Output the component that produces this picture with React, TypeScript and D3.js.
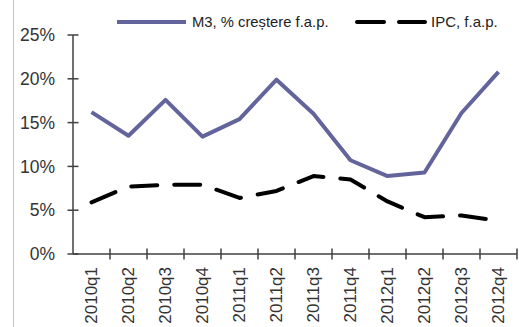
import React from "react";
import * as d3 from "d3";

const categories = ["2010q1","2010q2","2010q3","2010q4","2011q1","2011q2","2011q3","2011q4","2012q1","2012q2","2012q3","2012q4"];
const m3Values = [16.2, 13.5, 17.6, 13.4, 15.4, 19.9, 16.0, 10.7, 8.9, 9.3, 16.1, 20.8];
const ipcValues = [5.9, 7.7, 7.9, 7.9, 6.4, 7.2, 8.9, 8.5, 6.0, 4.2, 4.4, 3.8];
const yTicks = [0, 5, 10, 15, 20, 25];
const m3Label = "M3,  % creștere f.a.p.";
const ipcLabel = "IPC, f.a.p.";

export default function App() {
  const W = 519, H = 327;
  const left = 73, right = 517, top = 35, bottom = 254;
  const x = d3.scaleBand<string>().domain(categories).range([left, right]);
  const y = d3.scaleLinear().domain([0, 25]).range([bottom, top]);
  const cx = (c: string) => (x(c) as number) + x.bandwidth() / 2;
  const line = d3.line<number>().x((_, i) => cx(categories[i])).y(d => y(d));
  const axisColor = "#404040";
  const font = "Arial, 'Liberation Sans', sans-serif";
  return (
    <svg width={W} height={H} style={{ position: "absolute", left: 0, top: 0, background: "#fff" }}>
      <line x1={13.5} x2={13.5} y1={0} y2={H} stroke="#c8c8c8" strokeWidth={1} />
      {/* y axis */}
      <line x1={left} x2={left} y1={top} y2={bottom} stroke={axisColor} strokeWidth={1.5} />
      {yTicks.map(t => (
        <g key={t}>
          <line x1={left - 5.5} x2={left + 5.5} y1={y(t)} y2={y(t)} stroke={axisColor} strokeWidth={1.5} />
          <text x={55} y={y(t)} dy="0.35em" textAnchor="end" fontFamily={font} fontSize={17.5} fill="#333">{t}%</text>
        </g>
      ))}
      {/* x axis */}
      <line x1={left} x2={right} y1={bottom} y2={bottom} stroke={axisColor} strokeWidth={1.5} />
      {categories.map((c, i) => (
        <line key={"t" + c} x1={(x(c) as number) + x.bandwidth()} x2={(x(c) as number) + x.bandwidth()} y1={bottom - 5.5} y2={bottom + 5.5} stroke={axisColor} strokeWidth={1.5} />
      ))}
      {categories.map(c => (
        <text key={c} transform={`translate(${cx(c)},${bottom + 13}) rotate(-90)`} textAnchor="end" dy="0.35em" fontFamily={font} fontSize={17} fill="#333">{c}</text>
      ))}
      {/* series */}
      <path d={line(m3Values) || ""} fill="none" stroke="#64649c" strokeWidth={4} strokeLinejoin="round" />
      <path d={line(ipcValues) || ""} fill="none" stroke="#000" strokeWidth={4} strokeDasharray="26 17" strokeLinecap="round" strokeLinejoin="round" />
      {/* legend */}
      <line x1={117} x2={186} y1={22} y2={22} stroke="#64649c" strokeWidth={4} />
      <text x={192} y={22} dy="0.35em" fontFamily={font} fontSize={14.8} fill="#222">{m3Label}</text>
      <line x1={357} x2={384} y1={22} y2={22} stroke="#000" strokeWidth={4} strokeLinecap="round" />
      <line x1={399} x2={425} y1={22} y2={22} stroke="#000" strokeWidth={4} strokeLinecap="round" />
      <text x={431} y={22} dy="0.35em" fontFamily={font} fontSize={15} fill="#222">{ipcLabel}</text>
    </svg>
  );
}
